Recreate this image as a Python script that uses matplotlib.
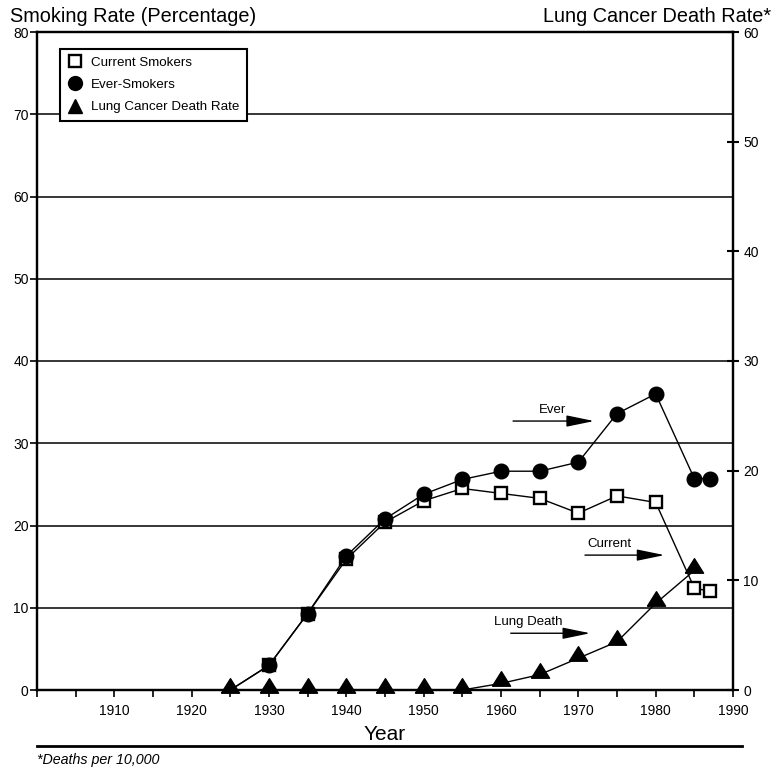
import numpy as np
import matplotlib.pyplot as plt
from matplotlib.lines import Line2D

plt.rcParams['font.family'] = ['Liberation Sans', 'DejaVu Sans']

# smoking rates (percent), first point 1925 is the start of the line only
years = [1925, 1930, 1935, 1940, 1945, 1950, 1955, 1960, 1965, 1970, 1975, 1980, 1985, 1987]
current = [0, 3.0, 9.3, 15.9, 20.4, 23.0, 24.5, 23.9, 23.3, 21.5, 23.6, 22.8, 12.4, 12.0]
ever = [0, 3.0, 9.3, 16.3, 20.8, 23.8, 25.6, 26.6, 26.6, 27.7, 33.6, 36.0, 25.7, 25.7]

# lung cancer deaths per 10,000 (right axis)
death_years = [1925, 1930, 1935, 1940, 1945, 1950, 1955, 1960, 1965, 1970, 1975, 1980, 1985]
death_rate = [0, 0, 0, 0, 0, 0, 0, 0.6, 1.4, 2.9, 4.4, 7.9, 10.9]

# triangle sitting mostly above its point
tri = [(-1, -0.3), (1, -0.3), (0, 1.3), (-1, -0.3)]

fig = plt.figure(figsize=(7.76, 7.70), dpi=100)
ax = fig.add_axes([37/776, 80/770, 696/776, 658/770])
ax2 = ax.twinx()

ax.set_xlim(1900, 1990)
ax.set_ylim(0, 80)
ax2.set_ylim(0, 60)

# horizontal grid from the left scale
for g in range(10, 80, 10):
    ax.axhline(g, color='black', lw=1.1, zorder=1)

ax.plot(years, current, color='black', lw=1, marker='s', markersize=9,
        markerfacecolor='white', markeredgecolor='black', markeredgewidth=1.7,
        markevery=slice(1, None), zorder=3, clip_on=False)
ax.plot(years, ever, color='black', lw=1, marker='o', markersize=10.5,
        markerfacecolor='black', markevery=slice(1, None), zorder=4, clip_on=False)
ax2.plot(death_years, death_rate, color='black', lw=1, marker=tri, markersize=17,
         markerfacecolor='black', zorder=5, clip_on=False)

arrow = dict(arrowstyle='-|>,head_length=1.7,head_width=0.35', color='black', lw=1)
ax.annotate('', xy=(1972.4, 32.7), xytext=(1961.2, 32.7), arrowprops=arrow)
ax.text(1966.7, 33.3, 'Ever', ha='center', va='bottom', fontsize=9.5)
ax.annotate('', xy=(1981.5, 16.4), xytext=(1970.5, 16.4), arrowprops=arrow)
ax.text(1974.0, 17.0, 'Current', ha='center', va='bottom', fontsize=9.5)
ax.annotate('', xy=(1971.9, 6.9), xytext=(1960.9, 6.9), arrowprops=arrow)
ax.text(1963.5, 7.5, 'Lung Death', ha='center', va='bottom', fontsize=9.5)

ax.set_xticks(np.arange(1910, 1991, 10))
ax.set_xticks(np.arange(1900, 1991, 5), minor=True)
ax.set_yticks(np.arange(0, 81, 10))
ax2.set_yticks(np.arange(0, 61, 10))
ax.tick_params(axis='x', direction='out', length=5, width=1.2, labelsize=10, pad=5)
ax.tick_params(axis='x', which='minor', direction='out', length=5, width=1.2)
ax.tick_params(axis='y', direction='out', length=5, width=1.2, labelsize=10, pad=1)
ax2.tick_params(axis='y', direction='inout', length=9, width=1.5, labelsize=10, pad=3)

for a in (ax, ax2):
    for s in a.spines.values():
        s.set_linewidth(1.6)

ax.set_xlabel('Year', fontsize=15, labelpad=5)

fig.text(10/776, 1 - 17/770, 'Smoking Rate (Percentage)', fontsize=14.3, va='center', ha='left')
fig.text(771/776, 1 - 17/770, 'Lung Cancer Death Rate*', fontsize=14.3, va='center', ha='right')

handles = [
    Line2D([], [], ls='none', marker='s', markersize=8.5, markerfacecolor='white',
           markeredgecolor='black', markeredgewidth=1.7),
    Line2D([], [], ls='none', marker='o', markersize=10, color='black'),
    Line2D([], [], ls='none', marker='^', markersize=10.5, color='black'),
]
leg = ax.legend(handles, ['Current Smokers', 'Ever-Smokers', 'Lung Cancer Death Rate'],
                loc='upper left', bbox_to_anchor=(23/696, 1 - 17/658), borderaxespad=0,
                fontsize=9.6, frameon=True, fancybox=False, edgecolor='black', framealpha=1,
                handletextpad=0.6, borderpad=0.55, labelspacing=0.75, handlelength=1.2)
leg.get_frame().set_linewidth(1.5)
leg.set_zorder(10)

fig.add_artist(Line2D([37/776, 742/776], [1 - 746/770, 1 - 746/770], color='black', lw=2))
fig.text(37/776, 1 - 760/770, '*Deaths per 10,000', fontsize=10.3, style='italic', va='center')

fig.savefig('out.png', dpi=100)
